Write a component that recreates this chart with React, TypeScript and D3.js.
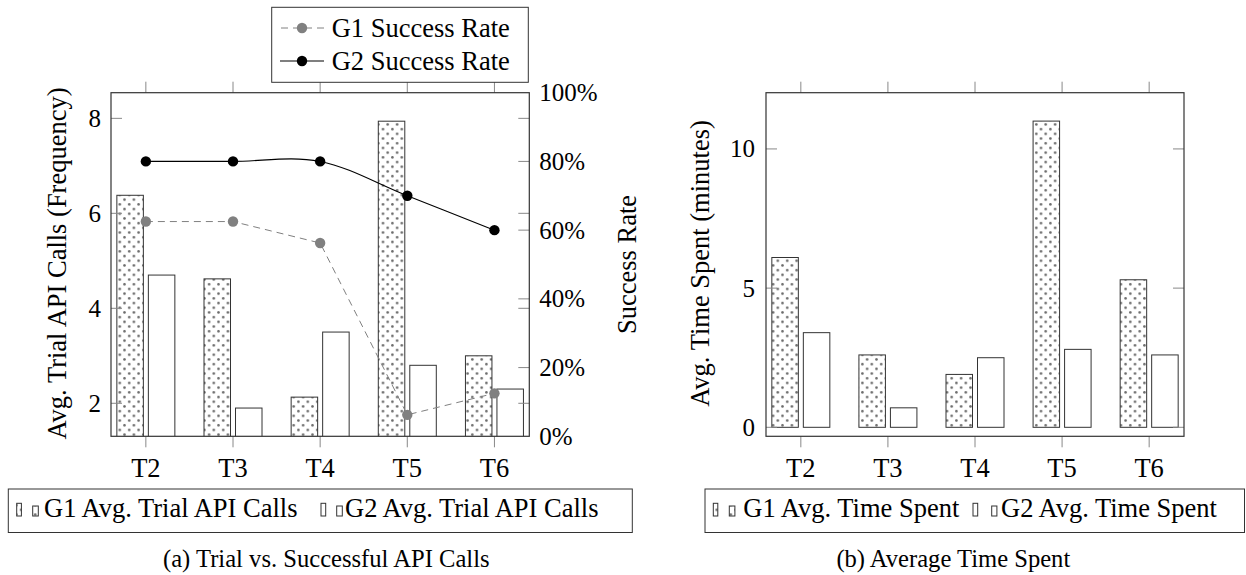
import React from 'react';
import * as d3 from 'd3';

const categories = ['T2', 'T3', 'T4', 'T5', 'T6'];
const g1Calls = [6.38, 4.62, 2.13, 7.94, 3.0];
const g2Calls = [4.7, 1.9, 3.5, 2.8, 2.3];
const g1Success = [62.5, 62.5, 56.25, 6.25, 12.5];
const g2Success = [80, 80, 80, 70, 60];
const g1Time = [6.1, 2.6, 1.9, 11.0, 5.3];
const g2Time = [3.4, 0.7, 2.5, 2.8, 2.6];
const callTicks = [2, 4, 6, 8];
const rateTicks = [0, 20, 40, 60, 80, 100];
const timeTicks = [0, 5, 10];

const FONT = 'Liberation Serif';
const FS = 26.5;
const TICK_FS = 25;
const FRAME = '#333';
const TICKC = '#888';
const TOP = 92.7;
const BOTTOM = 436.3;
const TL = 11;
const BW = 26.5;
const GAP = 2.5;

function XTicks({ x }: { x: d3.ScalePoint<string> }) {
  return (
    <g>
      {categories.map((c) => (
        <g key={c}>
          <line x1={x(c)} x2={x(c)} y1={TOP} y2={TOP - TL} stroke={TICKC} strokeWidth={1} />
          <line x1={x(c)} x2={x(c)} y1={BOTTOM} y2={BOTTOM + TL} stroke={TICKC} strokeWidth={1} />
          <text x={x(c)} y={476.5} textAnchor="middle" fontSize={FS} style={{ fontFamily: FONT }}>{c}</text>
        </g>
      ))}
    </g>
  );
}

function BarIcon({ x, y, w, h, fill }: any) {
  return <rect x={x} y={y} width={w} height={h} fill={fill} stroke={FRAME} strokeWidth={1} />;
}

export default function App() {
  const aL = 111, aR = 529.3;
  const xa = d3.scalePoint<string>().domain(categories).range([aL, aR]).padding(0.4);
  const ya = d3.scaleLinear().domain([1.305, 8.54]).range([BOTTOM, TOP]);
  const yr = d3.scaleLinear().domain([0, 100]).range([BOTTOM, TOP]);

  const bL = 766, bR = 1184;
  const xb = d3.scalePoint<string>().domain(categories).range([bL, bR]).padding(0.4);
  const yb = d3.scaleLinear().domain([-0.323, 12.02]).range([BOTTOM, TOP]);

  const g2Line = d3.line<number>()
    .x((_, i) => xa(categories[i]) as number)
    .y((d) => yr(d))
    .curve(d3.curveCardinal.tension(0));
  const g1Line = d3.line<number>()
    .x((_, i) => xa(categories[i]) as number)
    .y((d) => yr(d));

  const T = { fontFamily: FONT };

  return (
    <div style={{ position: 'absolute', left: 0, top: 0, fontFamily: FONT }}>
      <svg width={1246} height={575} xmlns="http://www.w3.org/2000/svg" style={{ display: 'block', background: '#fff', fontFamily: FONT }}>
        <defs>
          <pattern id="dots" patternUnits="userSpaceOnUse" width={9.4} height={9.4}>
            <rect width={9.4} height={9.4} fill="#fff" />
            <circle cx={2.3} cy={2.3} r={1.3} fill="#6a6a6a" />
            <circle cx={7} cy={7} r={1.3} fill="#6a6a6a" />
          </pattern>
          <clipPath id="clipA">
            <rect x={aL} y={TOP} width={aR - aL} height={BOTTOM - TOP} />
          </clipPath>
        </defs>

        {/* ===== Chart (a) ===== */}
        <g clipPath="url(#clipA)">
          {categories.map((c, i) => (
            <g key={c}>
              <rect x={(xa(c) as number) - GAP - BW} y={ya(g1Calls[i])} width={BW} height={BOTTOM - ya(g1Calls[i]) + 2}
                fill="url(#dots)" stroke={FRAME} strokeWidth={1} />
              <rect x={(xa(c) as number) + GAP} y={ya(g2Calls[i])} width={BW} height={BOTTOM - ya(g2Calls[i]) + 2}
                fill="#fff" stroke={FRAME} strokeWidth={1} />
            </g>
          ))}
        </g>
        {callTicks.map((t) => (
          <g key={'ca' + t}>
            <line x1={aL} x2={aL + TL} y1={ya(t)} y2={ya(t)} stroke={TICKC} />
            <line x1={aR} x2={aR - TL} y1={ya(t)} y2={ya(t)} stroke={TICKC} />
            <text x={101} y={ya(t)} dy="0.34em" textAnchor="end" fontSize={TICK_FS} style={T}>{t}</text>
          </g>
        ))}
        {rateTicks.map((t) => (
          <g key={'ra' + t}>
            {t > 0 && t < 100 && <line x1={aR} x2={aR - TL} y1={yr(t)} y2={yr(t)} stroke={TICKC} />}
            <text x={539.3} y={yr(t)} dy="0.34em" textAnchor="start" fontSize={TICK_FS} style={T}>{t}%</text>
          </g>
        ))}
        <XTicks x={xa} />
        <path d={g1Line(g1Success) || ''} fill="none" stroke="#808080" strokeWidth={1} strokeDasharray="7,5" />
        <path d={g2Line(g2Success) || ''} fill="none" stroke="#000" strokeWidth={1.1} />
        {categories.map((c, i) => (
          <g key={'m' + c}>
            <circle cx={xa(c)} cy={yr(g1Success[i])} r={5.2} fill="#808080" />
            <circle cx={xa(c)} cy={yr(g2Success[i])} r={5.2} fill="#000" />
          </g>
        ))}
        <rect x={aL} y={TOP} width={aR - aL} height={BOTTOM - TOP} fill="none" stroke={FRAME} strokeWidth={1.2} />

        <text transform={`translate(57,${(TOP + BOTTOM) / 2 - 1}) rotate(-90)`} textAnchor="middle" dy="0.34em" fontSize={FS} style={T}>Avg. Trial API Calls (Frequency)</text>
        <text transform={`translate(627,${(TOP + BOTTOM) / 2}) rotate(-90)`} textAnchor="middle" dy="0.34em" fontSize={FS} style={T}>Success Rate</text>

        <rect x={271.7} y={7.3} width={256.6} height={75} fill="#fff" stroke={FRAME} strokeWidth={1} />
        <line x1={280} x2={324} y1={28} y2={28} stroke="#808080" strokeWidth={1} strokeDasharray="7,5" strokeDashoffset={-1} />
        <circle cx={302} cy={28} r={5.2} fill="#808080" />
        <text x={331.7} y={37} fontSize={FS} style={T}>G1 Success Rate</text>
        <line x1={280} x2={324} y1={61} y2={61} stroke="#000" strokeWidth={1.1} />
        <circle cx={302} cy={61} r={5.2} fill="#000" />
        <text x={331.7} y={70} fontSize={FS} style={T}>G2 Success Rate</text>

        <rect x={8.3} y={489} width={624} height={43.5} fill="#fff" stroke={FRAME} strokeWidth={1} />
        <BarIcon x={16.7} y={503.3} w={4.7} h={12.7} fill="url(#dots)" />
        <BarIcon x={32.7} y={506} w={5.6} h={10} fill="url(#dots)" />
        <text x={44} y={516.5} fontSize={FS} style={T}>G1 Avg. Trial API Calls</text>
        <BarIcon x={321} y={503.3} w={4.7} h={12.7} fill="#fff" />
        <BarIcon x={336.7} y={506} w={5.6} h={10} fill="#fff" />
        <text x={345} y={516.5} fontSize={FS} style={T}>G2 Avg. Trial API Calls</text>

        <text x={326.3} y={567} textAnchor="middle" fontSize={24.6} style={T}>(a) Trial vs. Successful API Calls</text>

        {/* ===== Chart (b) ===== */}
        {categories.map((c, i) => (
          <g key={'b' + c}>
            <rect x={(xb(c) as number) - GAP - BW} y={yb(g1Time[i])} width={BW} height={yb(0) - yb(g1Time[i])}
              fill="url(#dots)" stroke={FRAME} strokeWidth={1} />
            <rect x={(xb(c) as number) + GAP} y={yb(g2Time[i])} width={BW} height={yb(0) - yb(g2Time[i])}
              fill="#fff" stroke={FRAME} strokeWidth={1} />
          </g>
        ))}
        {timeTicks.map((t) => (
          <g key={'tb' + t}>
            <line x1={bL} x2={bL + TL} y1={yb(t)} y2={yb(t)} stroke={TICKC} />
            <line x1={bR} x2={bR - TL} y1={yb(t)} y2={yb(t)} stroke={TICKC} />
            <text x={755} y={yb(t)} dy="0.34em" textAnchor="end" fontSize={TICK_FS} style={T}>{t}</text>
          </g>
        ))}
        <XTicks x={xb} />
        <rect x={bL} y={TOP} width={bR - bL} height={BOTTOM - TOP} fill="none" stroke={FRAME} strokeWidth={1.2} />
        <text transform={`translate(700,${(TOP + BOTTOM) / 2 - 1}) rotate(-90)`} textAnchor="middle" dy="0.34em" fontSize={FS} style={T}>Avg. Time Spent (minutes)</text>

        <rect x={705} y={489} width={539.5} height={43.5} fill="#fff" stroke={FRAME} strokeWidth={1} />
        <BarIcon x={713.3} y={503.3} w={4.5} h={12.7} fill="url(#dots)" />
        <BarIcon x={729.3} y={506} w={5.6} h={10} fill="url(#dots)" />
        <text x={743.3} y={516.5} fontSize={FS} style={T}>G1 Avg. Time Spent</text>
        <BarIcon x={973} y={503.3} w={4.7} h={12.7} fill="#fff" />
        <BarIcon x={991.7} y={506} w={5.2} h={10} fill="#fff" />
        <text x={1001} y={516.5} fontSize={FS} style={T}>G2 Avg. Time Spent</text>

        <text x={953.3} y={567} textAnchor="middle" fontSize={24.6} style={T}>(b) Average Time Spent</text>
      </svg>
    </div>
  );
}
